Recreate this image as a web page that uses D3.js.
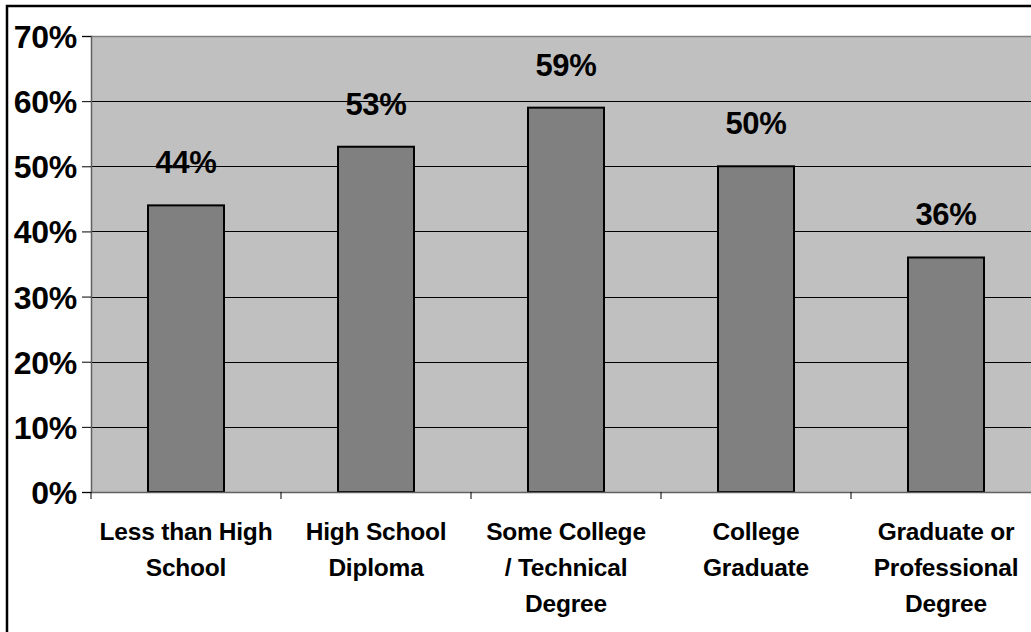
<!DOCTYPE html>
<html><head><meta charset="utf-8">
<script src="https://cdn.jsdelivr.net/npm/d3@7"></script>
<style>html,body{margin:0;padding:0;background:#fff;overflow:hidden}svg{display:block}</style>
</head><body>
<svg id="c" width="1031" height="632"></svg>
<script>
const categories = [["Less than High","School"],["High School","Diploma"],["Some College","/ Technical","Degree"],["College","Graduate"],["Graduate or","Professional","Degree"]];
const values = [44,53,59,50,36];
const yTicks = [0,10,20,30,40,50,60,70];

const svg = d3.select("#c");
const font = "'Liberation Sans', Arial, sans-serif";
const mLeft = 91, mTop = 36, plotW = 950, plotH = 456;

svg.append("rect").attr("x",7).attr("y",6).attr("width",1200).attr("height",800)
  .attr("fill","#fff").attr("stroke","#000").attr("stroke-width",2.5);

const x = d3.scaleBand().domain(d3.range(values.length)).range([mLeft,mLeft+plotW]).paddingInner(0.6).paddingOuter(0.3);
const xb = d3.scaleBand().domain(d3.range(values.length)).range([mLeft,mLeft+plotW]);
const y = d3.scaleLinear().domain([0,70]).range([mTop+plotH, mTop]);

svg.append("rect").attr("x",mLeft).attr("y",mTop).attr("width",plotW).attr("height",plotH).attr("fill","#c0c0c0");

// gridlines
svg.append("g").selectAll("line").data(yTicks.filter(d=>d>0 && d<70)).join("line")
  .attr("x1",mLeft).attr("x2",mLeft+plotW).attr("y1",d=>Math.round(y(d))+0.5).attr("y2",d=>Math.round(y(d))+0.5)
  .attr("stroke","#000").attr("stroke-width",1);
svg.append("line").attr("x1",mLeft).attr("x2",mLeft+plotW).attr("y1",mTop+0.5).attr("y2",mTop+0.5).attr("stroke","#808080").attr("stroke-width",1.5);

// bars
svg.append("g").selectAll("rect").data(values).join("rect")
  .attr("x",(d,i)=>x(i)).attr("width",x.bandwidth())
  .attr("y",d=>y(d)).attr("height",d=>y(0)-y(d))
  .attr("fill","#808080").attr("stroke","#000").attr("stroke-width",2);

// data labels
svg.append("g").selectAll("text").data(values).join("text")
  .attr("x",(d,i)=>x(i)+x.bandwidth()/2).attr("y",d=>y(d)-32)
  .attr("text-anchor","middle").attr("font-family",font).attr("font-weight","bold")
  .attr("font-size",31).attr("letter-spacing",-0.3).attr("fill","#000").text(d=>d+"%");

// y axis
const ya = d3.axisLeft(y).tickValues(yTicks).tickSize(9).tickPadding(5).tickFormat(d=>d+"%");
const yg = svg.append("g").attr("transform",`translate(${mLeft},0)`).call(ya);
yg.select(".domain").attr("stroke","#606060").attr("stroke-width",1.5);
yg.selectAll(".tick line").attr("stroke","#000");
yg.selectAll("text").attr("font-family",font).attr("font-weight","bold").attr("font-size",32)
  .attr("letter-spacing",-0.3).attr("fill","#000").attr("dy","0.36em");

// x axis
const xa = d3.axisBottom(xb).tickValues([]).tickSizeOuter(0);
const xg = svg.append("g").attr("transform",`translate(0,${mTop+plotH})`).call(xa);
xg.select(".domain").attr("stroke","#606060").attr("stroke-width",1.5);
xg.selectAll("line.t").data(d3.range(values.length+1)).join("line").attr("class","t")
  .attr("x1",d=>mLeft+d*xb.bandwidth()).attr("x2",d=>mLeft+d*xb.bandwidth())
  .attr("y1",0).attr("y2",7).attr("stroke","#000");

// category labels
const cl = svg.append("g").selectAll("text").data(categories).join("text")
  .attr("text-anchor","middle").attr("font-family",font).attr("font-weight","bold")
  .attr("font-size",24.5).attr("letter-spacing",-0.2).attr("fill","#000");
cl.each(function(lines,i){
  d3.select(this).selectAll("tspan").data(lines).join("tspan")
    .attr("x",xb(i)+xb.bandwidth()/2).attr("y",(d,j)=>540+j*36).text(d=>d);
});
</script>
</body></html>
